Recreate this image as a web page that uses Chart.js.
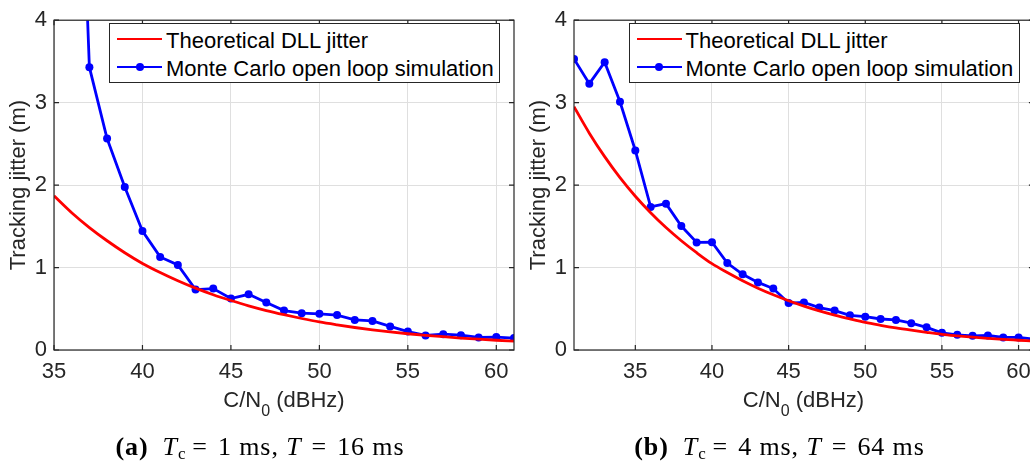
<!DOCTYPE html>
<html>
<head>
<meta charset="utf-8">
<script src="https://cdn.jsdelivr.net/npm/chart.js@4.4.0/dist/chart.umd.min.js"></script>
<style>
  html, body { margin: 0; padding: 0; background: #fff; overflow: hidden; }
  #page { position: relative; width: 1030px; height: 465px; overflow: hidden;
          font-family: "Liberation Sans", Arial, sans-serif; color: #262626; }
  .panel { position: absolute; top: 0; width: 520px; height: 465px; }
  .panel canvas { position: absolute; left: 0; top: 0; }
  .xtitle { position: absolute; left: 54px; width: 460px; top: 389px; text-align: center;
            font-size: 22px; line-height: 22px; white-space: nowrap; }
  .xtitle sub { font-size: 16px; position: relative; top: 4px; vertical-align: sub; line-height: 0; }
  .legend { position: absolute; top: 23px; left: 109px; width: 389px; height: 58px;
            border: 1px solid #262626; background: #fff; font-size: 22px; color: #000; }
  .legend .row { position: absolute; left: 0; width: 100%; height: 28px; }
  .legend .sample { position: absolute; left: 7px; width: 45px; height: 0; }
  .legend .dot { position: absolute; width: 8px; height: 8px; border-radius: 50%; }
  .legend .label { position: absolute; left: 56px; line-height: 22px; white-space: nowrap; }
  .caption { position: absolute; left: 0; width: 520px; top: 434px; text-align: center;
             font-family: "Liberation Serif", "DejaVu Serif", serif; font-size: 26px;
             letter-spacing: 0.9px; line-height: 26px; color: #000; white-space: nowrap; }
  .caption i { font-style: italic; }
  .caption .tag { margin-right: 14px; }
  .caption .eq { margin: 0 10px; }
  .caption .eq.sq { margin-left: 6px; }
  .caption sub { font-size: 17px; vertical-align: baseline; position: relative; top: 4px; }
</style>
</head>
<body>
<div id="page">
  <div class="panel" id="panelA" style="left:0px">
    <canvas id="chartA" width="520" height="400"></canvas>
    <div class="xtitle">C/N<sub>0</sub> (dBHz)</div>
    <div class="legend" id="legendA"></div>
    <div class="caption"><b class="tag">(a)</b><i>T</i><sub>c</sub><span class="eq sq">=</span>1 ms, <i>T</i><span class="eq">=</span>16 ms</div>
  </div>
  <div class="panel" id="panelB" style="left:519.5px">
    <canvas id="chartB" width="520" height="400"></canvas>
    <div class="xtitle">C/N<sub>0</sub> (dBHz)</div>
    <div class="legend" id="legendB"></div>
    <div class="caption"><b class="tag">(b)</b><i>T</i><sub>c</sub><span class="eq sq">=</span>4 ms, <i>T</i><span class="eq">=</span>64 ms</div>
  </div>
</div>
<script>
// ---- data ----
const labelTheory = 'Theoretical DLL jitter';
const labelSim = 'Monte Carlo open loop simulation';

// (a) Tc = 1 ms, T = 16 ms
const cn0TheoryA = [35, 36, 37, 38, 39, 40, 41, 42, 43, 44, 45, 46, 47, 48, 49, 50, 51, 52, 53, 54, 55, 56, 57, 58, 59, 60, 61];
const jitterTheoryA = [1.87, 1.665, 1.485, 1.325, 1.18, 1.05, 0.94, 0.84, 0.75, 0.67, 0.6, 0.535, 0.478, 0.428, 0.382, 0.34, 0.305, 0.273, 0.245, 0.22, 0.197, 0.178, 0.161, 0.145, 0.131, 0.118, 0.107];
const cn0SimA = [36, 37, 38, 39, 40, 41, 42, 43, 44, 45, 46, 47, 48, 49, 50, 51, 52, 53, 54, 55, 56, 57, 58, 59, 60, 61];
const jitterSimA = [9.1, 3.43, 2.565, 1.976, 1.443, 1.129, 1.031, 0.733, 0.745, 0.624, 0.675, 0.576, 0.478, 0.447, 0.439, 0.424, 0.365, 0.353, 0.286, 0.224, 0.176, 0.192, 0.18, 0.153, 0.157, 0.145];

// (b) Tc = 4 ms, T = 64 ms
const cn0TheoryB = [31, 32, 33, 34, 35, 36, 37, 38, 39, 40, 41, 42, 43, 44, 45, 46, 47, 48, 49, 50, 51, 52, 53, 54, 55, 56, 57, 58, 59, 60, 61];
const jitterTheoryB = [2.95, 2.63, 2.345, 2.09, 1.865, 1.665, 1.485, 1.325, 1.18, 1.047, 0.94, 0.84, 0.75, 0.67, 0.598, 0.533, 0.475, 0.424, 0.378, 0.335, 0.3, 0.268, 0.24, 0.214, 0.19, 0.172, 0.156, 0.142, 0.129, 0.118, 0.107];
const cn0SimB = [31, 32, 33, 34, 35, 36, 37, 38, 39, 40, 41, 42, 43, 44, 45, 46, 47, 48, 49, 50, 51, 52, 53, 54, 55, 56, 57, 58, 59, 60, 61];
const jitterSimB = [3.53, 3.23, 3.49, 3.01, 2.42, 1.735, 1.775, 1.503, 1.305, 1.308, 1.055, 0.918, 0.82, 0.745, 0.569, 0.576, 0.514, 0.478, 0.42, 0.404, 0.376, 0.365, 0.325, 0.275, 0.208, 0.184, 0.172, 0.176, 0.153, 0.153, 0.133];

const xTicks = [35, 40, 45, 50, 55, 60];
const yTicks = [0, 1, 2, 3, 4];

const AXIS = '#262626';
const GRID = '#dfdfdf';
const FONT = '"Liberation Sans", Arial, sans-serif';

// box + inward tick marks, like matlab axes
const framePlugin = {
  id: 'frame',
  afterDatasetsDraw(chart) {
    const { ctx, chartArea: a, scales: { x, y } } = chart;
    const len = 5;
    ctx.save();
    ctx.strokeStyle = AXIS;
    ctx.lineWidth = 1.2;
    ctx.beginPath();
    x.ticks.forEach(t => {
      const px = x.getPixelForValue(t.value);
      ctx.moveTo(px, a.bottom); ctx.lineTo(px, a.bottom - len);
      ctx.moveTo(px, a.top); ctx.lineTo(px, a.top + len);
    });
    y.ticks.forEach(t => {
      const py = y.getPixelForValue(t.value);
      ctx.moveTo(a.left, py); ctx.lineTo(a.left + len, py);
      ctx.moveTo(a.right, py); ctx.lineTo(a.right - len, py);
    });
    ctx.stroke();
    ctx.strokeRect(a.left, a.top, a.right - a.left, a.bottom - a.top);
    ctx.restore();
  }
};

function pts(xs, ys) {
  return xs.map((v, i) => ({ x: v, y: ys[i] }));
}

function makeChart(id, legendId, xMin, theoryX, theoryY, simX, simY) {
  const datasets = [
    {
      label: labelTheory,
      data: pts(theoryX, theoryY),
      borderColor: '#ff0000',
      borderWidth: 2.8,
      pointRadius: 0,
      cubicInterpolationMode: 'monotone',
      clip: 0
    },
    {
      label: labelSim,
      data: pts(simX, simY),
      borderColor: '#0000ff',
      backgroundColor: '#0000ff',
      borderWidth: 2.8,
      pointRadius: 4,
      pointBorderWidth: 0,
      pointBackgroundColor: '#0000ff',
      clip: 0
    }
  ];

  new Chart(document.getElementById(id), {
    type: 'line',
    data: { datasets },
    options: {
      responsive: false,
      animation: false,
      devicePixelRatio: 1,
      layout: { padding: { top: 10, right: 6, left: 0, bottom: 0 } },
      plugins: { legend: { display: false }, tooltip: { enabled: false } },
      scales: {
        x: {
          type: 'linear',
          min: xMin,
          max: 61,
          afterBuildTicks: s => { s.ticks = xTicks.map(v => ({ value: v })); },
          afterFit: s => { s.height = 50; },
          grid: { color: GRID, lineWidth: 1, drawTicks: false },
          border: { display: false },
          ticks: { font: { family: FONT, size: 22 }, color: AXIS, padding: 9 }
        },
        y: {
          min: 0,
          max: 4,
          afterBuildTicks: s => { s.ticks = yTicks.map(v => ({ value: v })); },
          afterFit: s => { s.width = 54; },
          grid: { color: GRID, lineWidth: 1, drawTicks: false },
          border: { display: false },
          ticks: { font: { family: FONT, size: 22 }, color: AXIS, padding: 7 },
          title: {
            display: true,
            text: 'Tracking jitter (m)',
            font: { family: FONT, size: 22 },
            color: AXIS,
            padding: { top: 6, bottom: 0 }
          }
        }
      }
    },
    plugins: [framePlugin]
  });

  // legend box inside the axes
  const box = document.getElementById(legendId);
  const rowTops = [1, 29];
  datasets.forEach((ds, i) => {
    const row = document.createElement('div');
    row.className = 'row';
    row.style.top = rowTops[i] + 'px';
    const line = document.createElement('div');
    line.className = 'sample';
    line.style.top = (14 - ds.borderWidth / 2) + 'px';
    line.style.borderTop = ds.borderWidth + 'px solid ' + ds.borderColor;
    row.appendChild(line);
    if (ds.pointRadius > 0) {
      const dot = document.createElement('div');
      dot.className = 'dot';
      dot.style.background = ds.pointBackgroundColor;
      dot.style.left = (7 + 22.5 - 4) + 'px';
      dot.style.top = (14 - 4) + 'px';
      row.appendChild(dot);
    }
    const txt = document.createElement('div');
    txt.className = 'label';
    txt.style.top = '5px';
    txt.textContent = ds.label;
    row.appendChild(txt);
    box.appendChild(row);
  });
}

makeChart('chartA', 'legendA', 35, cn0TheoryA, jitterTheoryA, cn0SimA, jitterSimA);
makeChart('chartB', 'legendB', 31, cn0TheoryB, jitterTheoryB, cn0SimB, jitterSimB);
</script>
</body>
</html>
